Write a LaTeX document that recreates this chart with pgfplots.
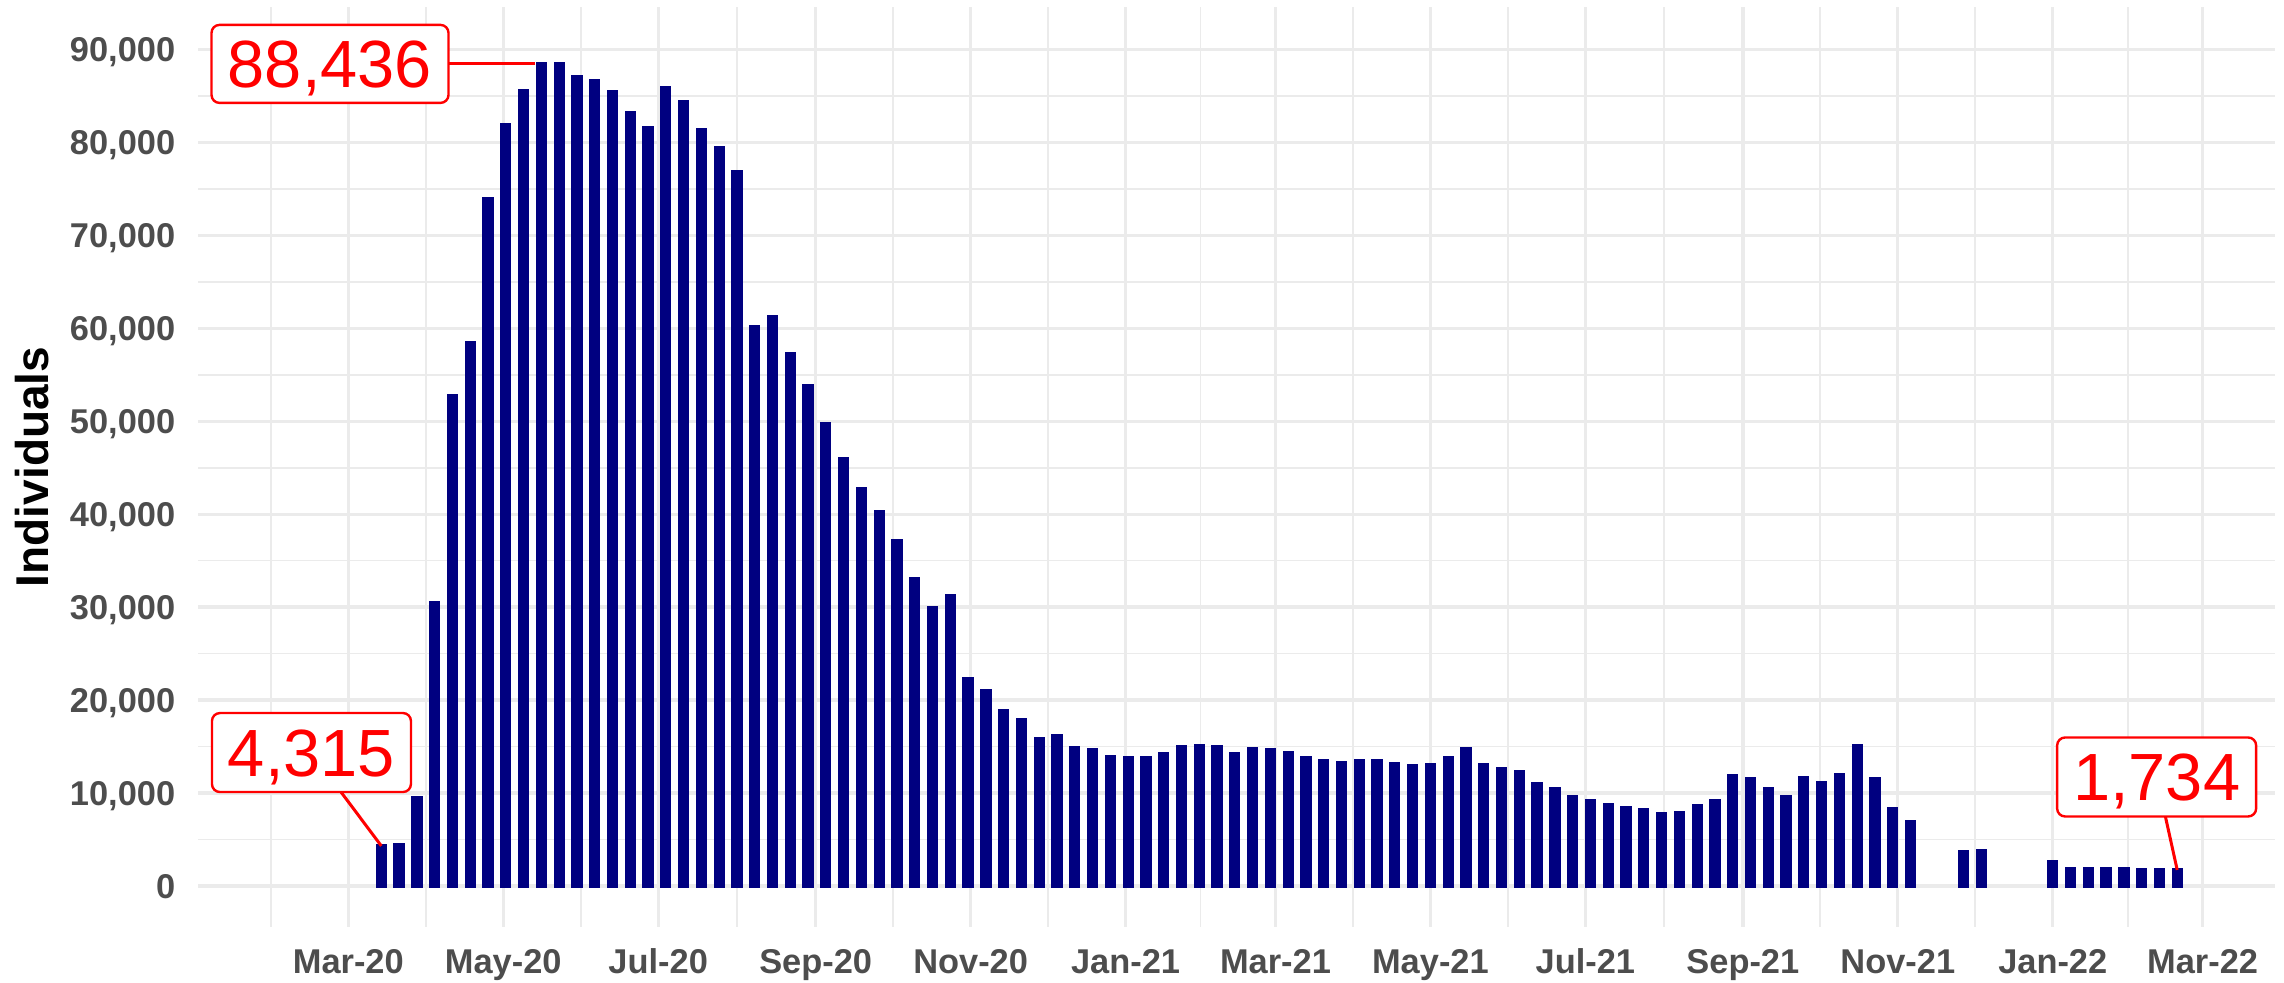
\documentclass[border=0pt]{standalone}
\usepackage{fontspec}
\setmainfont{Liberation Sans}
\usepackage{pgfplots}
\usepackage{pgfplotstable}
\pgfplotsset{compat=1.18}
\definecolor{navybar}{HTML}{000080}
\definecolor{grey30}{HTML}{4D4D4D}
\definecolor{grey92}{HTML}{EBEBEB}

\pgfplotstableread{
day val
73 4315
80 4340
87 9420
94 30440
101 52640
108 58440
115 73890
122 81840
129 85540
136 88436
143 88400
150 87040
157 86540
164 85340
171 83140
178 81540
185 85840
192 84340
199 81340
206 79340
213 76790
220 60140
227 61240
234 57240
241 53740
248 49690
255 45940
262 42740
269 40190
276 37040
283 33040
290 29840
297 31190
304 22290
311 20990
318 18840
325 17890
332 15840
339 16090
346 14840
353 14640
360 13890
367 13740
374 13740
381 14140
388 14890
395 15090
402 14890
409 14140
416 14740
423 14590
430 14290
437 13740
444 13440
451 13190
458 13440
465 13390
472 13140
479 12890
486 13040
493 13740
500 14690
507 13040
514 12590
521 12240
528 10940
535 10390
542 9590
549 9140
556 8670
563 8420
570 8200
577 7740
584 7810
591 8590
598 9100
605 11840
612 11540
619 10440
626 9600
633 11570
640 11040
647 11940
654 14990
661 11540
668 8240
675 6870
696 3610
703 3760
731 2610
738 1780
745 1780
752 1860
759 1780
766 1710
773 1710
780 1734
}\datatable

\begin{document}
\begin{tikzpicture}
\begin{axis}[
  scale only axis, width=519.25pt, height=230pt,
  xmin=0.83, xmax=818.5, ymin=-4410, ymax=94556,
  clip=false,
  axis line style={draw=none},
  major tick length=0pt, minor tick length=0pt,
  xtick={60,121,182,244,305,366,425,486,547,609,670,731,790},
  xticklabels={Mar-20,May-20,Jul-20,Sep-20,Nov-20,Jan-21,Mar-21,May-21,Jul-21,Sep-21,Nov-21,Jan-22,Mar-22},
  minor xtick={29.5,90.5,151.5,213,274.5,335.5,395.5,455.5,516.5,578,639.5,700.5,760.5},
  ytick={0,10000,20000,30000,40000,50000,60000,70000,80000,90000},
  yticklabels={0,{10,000},{20,000},{30,000},{40,000},{50,000},{60,000},{70,000},{80,000},{90,000}},
  minor ytick={5000,15000,25000,35000,45000,55000,65000,75000,85000},
  grid=both,
  major grid style={grey92, line width=0.83pt},
  minor grid style={grey92, line width=0.42pt},
  ticklabel style={font=\fontsize{8.6}{10}\selectfont\bfseries, text=grey30, inner sep=0pt},
  xticklabel style={anchor=base, yshift=-11.5pt},
  yticklabel style={anchor=base east, xshift=-5.5pt, yshift=-3.1pt},
]
\addplot[ybar, bar width=2.7, bar shift=0pt, fill=navybar, draw=navybar, line width=1.1pt] table[x=day, y=val] {\datatable};

\draw[red, line width=0.75pt] (axis cs:133.5,88436) -- (axis cs:52.8,88436);
\draw[red, line width=0.75pt] (axis cs:73,4315) -- (axis cs:45.5,14360);
\draw[red, line width=0.75pt] (axis cs:780,1734) -- (axis cs:771.9,11730);

\node[draw=red, fill=white, line width=0.6pt, rounded corners=2pt, text=red,
  font=\fontsize{16.7}{18}\selectfont, minimum width=59.25pt, minimum height=19.5pt,
  inner sep=0pt, text height=12pt, text depth=0pt] at (axis cs:52.8,88436) {88,436};
\node[draw=red, fill=white, line width=0.6pt, rounded corners=2pt, text=red,
  font=\fontsize{16.7}{18}\selectfont, minimum width=49.75pt, minimum height=19.75pt,
  inner sep=0pt, text height=12pt, text depth=0pt] at (axis cs:45.5,14360) {4,315};
\node[draw=red, fill=white, line width=0.6pt, rounded corners=2pt, text=red,
  font=\fontsize{16.7}{18}\selectfont, minimum width=49.75pt, minimum height=19.75pt,
  inner sep=0pt, text height=12pt, text depth=0pt] at (axis cs:771.9,11730) {1,734};

\coordinate (sw) at (rel axis cs:0,0);
\coordinate (ne) at (rel axis cs:1,1);
\coordinate (ml) at (rel axis cs:0,0.5);
\end{axis}
\node[rotate=90, font=\fontsize{11.5}{13}\selectfont\bfseries, text=black] at ([xshift=-41.5pt]ml) {Individuals};
\pgfresetboundingbox
\path ([shift={(-49.5pt,-13.75pt)}]sw) rectangle ([shift={(2.25pt,1.75pt)}]ne);
\end{tikzpicture}
\end{document}
